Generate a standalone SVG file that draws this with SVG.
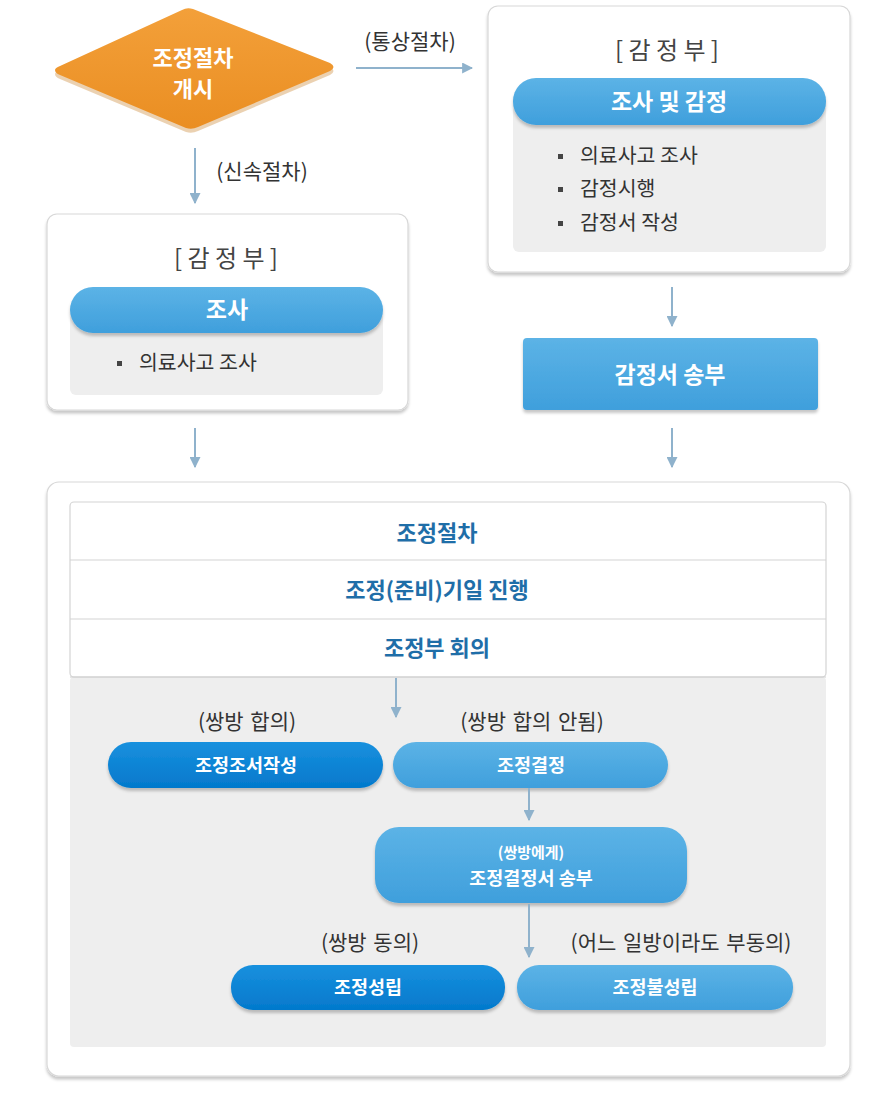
<svg xmlns="http://www.w3.org/2000/svg" width="889" height="1095" viewBox="0 0 889 1095">
<defs>
<linearGradient id="gLight" x1="0" y1="0" x2="0" y2="1">
<stop offset="0" stop-color="#5cb3e6"/><stop offset="1" stop-color="#3f9fdc"/>
</linearGradient>
<linearGradient id="gDark" x1="0" y1="0" x2="0" y2="1">
<stop offset="0" stop-color="#1890de"/><stop offset="1" stop-color="#0479cc"/>
</linearGradient>
<linearGradient id="gOrange" x1="0" y1="0" x2="0" y2="1">
<stop offset="0" stop-color="#f3a03a"/><stop offset="1" stop-color="#ea8e22"/>
</linearGradient>
<marker id="ah" viewBox="0 0 10 10" refX="9" refY="5" markerWidth="11" markerHeight="11" markerUnits="userSpaceOnUse" orient="auto">
<path d="M0,0 L10,5 L0,10 Z" fill="#8fb2cc"/>
</marker>
<filter id="sh" x="-5%" y="-10%" width="110%" height="130%">
<feDropShadow dx="0" dy="3" stdDeviation="1.5" flood-color="#000" flood-opacity="0.22"/>
</filter>
</defs>
<style>
text{font-family:"Noto Sans CJK KR","Noto Sans",sans-serif;}
.lbl{font-size:21px;fill:#333;text-anchor:middle;word-spacing:2px;}
.hdr{font-size:24px;fill:#444;text-anchor:middle;}
.pill{font-size:23px;fill:#fff;font-weight:bold;text-anchor:middle;}
.dia{font-size:22px;fill:#fff;font-weight:bold;text-anchor:middle;}
.pills{font-size:18.5px;fill:#fff;font-weight:bold;text-anchor:middle;}
.bul{font-size:20.5px;fill:#333;}
.row{font-size:22px;fill:#1f6ea8;font-weight:bold;text-anchor:middle;}
.card{fill:#fff;stroke:#d8d8d8;stroke-width:1.2;}
.conn{stroke:#8fb2cc;stroke-width:2;fill:none;}
</style>
<rect width="889" height="1095" fill="#fff"/>

<g id="start">
<path d="M55,70 Q55,68 60,66 L182,10 Q187,7 193,9 L330,63 Q337,67 330,71 L198,127 Q192,130 186,128 L60,75 Q55,73 55,70 Z" fill="#c77a20" transform="translate(0,4)" opacity="0.35"/>
<path d="M55,70 Q55,68 60,66 L182,10 Q187,7 193,9 L330,63 Q337,67 330,71 L198,127 Q192,130 186,128 L60,75 Q55,73 55,70 Z" fill="url(#gOrange)"/>
<text class="dia" x="193" y="66">조정절차</text>
<text class="dia" x="193" y="97">개시</text>
</g>

<g id="left-dept">
<rect class="card" x="47" y="214" width="361" height="196" rx="10" filter="url(#sh)"/>
<text class="hdr" x="226" y="267">[ 감 정 부 ]</text>
<rect x="70" y="310" width="313" height="85" rx="6" fill="#eeeeee"/>
<rect x="70" y="287" width="313" height="46" rx="23" fill="url(#gLight)" filter="url(#sh)"/>
<text class="pill" x="227" y="318">조사</text>
<rect x="117" y="361" width="5" height="5" fill="#444"/>
<text class="bul" x="139" y="370">의료사고 조사</text>
</g>

<g id="right-dept">
<rect class="card" x="488" y="6" width="362" height="266" rx="10" filter="url(#sh)"/>
<text class="hdr" x="667" y="59">[ 감 정 부 ]</text>
<rect x="513" y="100" width="313" height="152" rx="6" fill="#eeeeee"/>
<rect x="513" y="78" width="313" height="47" rx="23" fill="url(#gLight)" filter="url(#sh)"/>
<text class="pill" x="669" y="110">조사 및 감정</text>
<rect x="558" y="154" width="5" height="5" fill="#444"/>
<text class="bul" x="580" y="163">의료사고 조사</text>
<rect x="558" y="187" width="5" height="5" fill="#444"/>
<text class="bul" x="580" y="196">감정시행</text>
<rect x="558" y="221" width="5" height="5" fill="#444"/>
<text class="bul" x="580" y="230">감정서 작성</text>
</g>

<g id="send-report">
<rect x="523" y="338" width="295" height="72" rx="4" fill="url(#gLight)" filter="url(#sh)"/>
<text class="pill" x="670" y="383">감정서 송부</text>
</g>

<g id="mediation">
<rect class="card" x="47" y="482" width="803" height="594" rx="12" filter="url(#sh)"/>
<rect x="70" y="677" width="756" height="370" rx="4" fill="#eeeeee"/>
<rect x="70" y="502" width="756" height="175" rx="4" fill="#fff" stroke="#d4d4d4" stroke-width="1.2"/>
<line x1="70" y1="560" x2="826" y2="560" stroke="#d4d4d4" stroke-width="1.2"/>
<line x1="70" y1="619" x2="826" y2="619" stroke="#d4d4d4" stroke-width="1.2"/>
<line x1="70" y1="677" x2="826" y2="677" stroke="#cfcfcf" stroke-width="1.2"/>
<text class="row" x="437" y="541">조정절차</text>
<text class="row" x="437" y="598">조정(준비)기일 진행</text>
<text class="row" x="437" y="656">조정부 회의</text>
</g>

<g id="agree-label"><text class="lbl" x="247" y="729">(쌍방 합의)</text></g>
<g id="disagree-label"><text class="lbl" x="532" y="729">(쌍방 합의 안됨)</text></g>

<g id="protocol">
<rect x="108" y="742" width="275" height="46" rx="23" fill="url(#gDark)" filter="url(#sh)"/>
<text class="pills" x="246" y="772">조정조서작성</text>
</g>
<g id="decision">
<rect x="393" y="742" width="275" height="46" rx="23" fill="url(#gLight)" filter="url(#sh)"/>
<text class="pills" x="531" y="772">조정결정</text>
</g>
<g id="send-decision">
<rect x="375" y="827" width="312" height="76" rx="24" fill="url(#gLight)" filter="url(#sh)"/>
<text class="pills" x="531" y="858" style="font-size:15px">(쌍방에게)</text>
<text class="pills" x="531" y="885">조정결정서 송부</text>
</g>
<g id="consent-label"><text class="lbl" x="370" y="950">(쌍방 동의)</text></g>
<g id="dissent-label"><text class="lbl" x="681" y="950">(어느 일방이라도 부동의)</text></g>
<g id="success">
<rect x="231" y="965" width="274" height="45" rx="22" fill="url(#gDark)" filter="url(#sh)"/>
<text class="pills" x="368" y="994">조정성립</text>
</g>
<g id="failure">
<rect x="517" y="965" width="276" height="45" rx="22" fill="url(#gLight)" filter="url(#sh)"/>
<text class="pills" x="655" y="994">조정불성립</text>
</g>

<g id="connectors">
<line class="conn" x1="356" y1="68" x2="472" y2="68" marker-end="url(#ah)"/>
<line class="conn" x1="195" y1="148" x2="195" y2="203" marker-end="url(#ah)"/>
<line class="conn" x1="672" y1="287" x2="672" y2="326" marker-end="url(#ah)"/>
<line class="conn" x1="672" y1="428" x2="672" y2="467" marker-end="url(#ah)"/>
<line class="conn" x1="195" y1="428" x2="195" y2="467" marker-end="url(#ah)"/>
<line class="conn" x1="396" y1="678" x2="396" y2="717" marker-end="url(#ah)" stroke-width="1.5"/>
<line class="conn" x1="529" y1="788" x2="529" y2="820" marker-end="url(#ah)" stroke-width="1.5"/>
<line class="conn" x1="529" y1="904" x2="529" y2="957" marker-end="url(#ah)" stroke-width="1.5"/>
<text class="lbl" x="410" y="49">(통상절차)</text>
<text class="lbl" x="262" y="179">(신속절차)</text>
</g>
</svg>
